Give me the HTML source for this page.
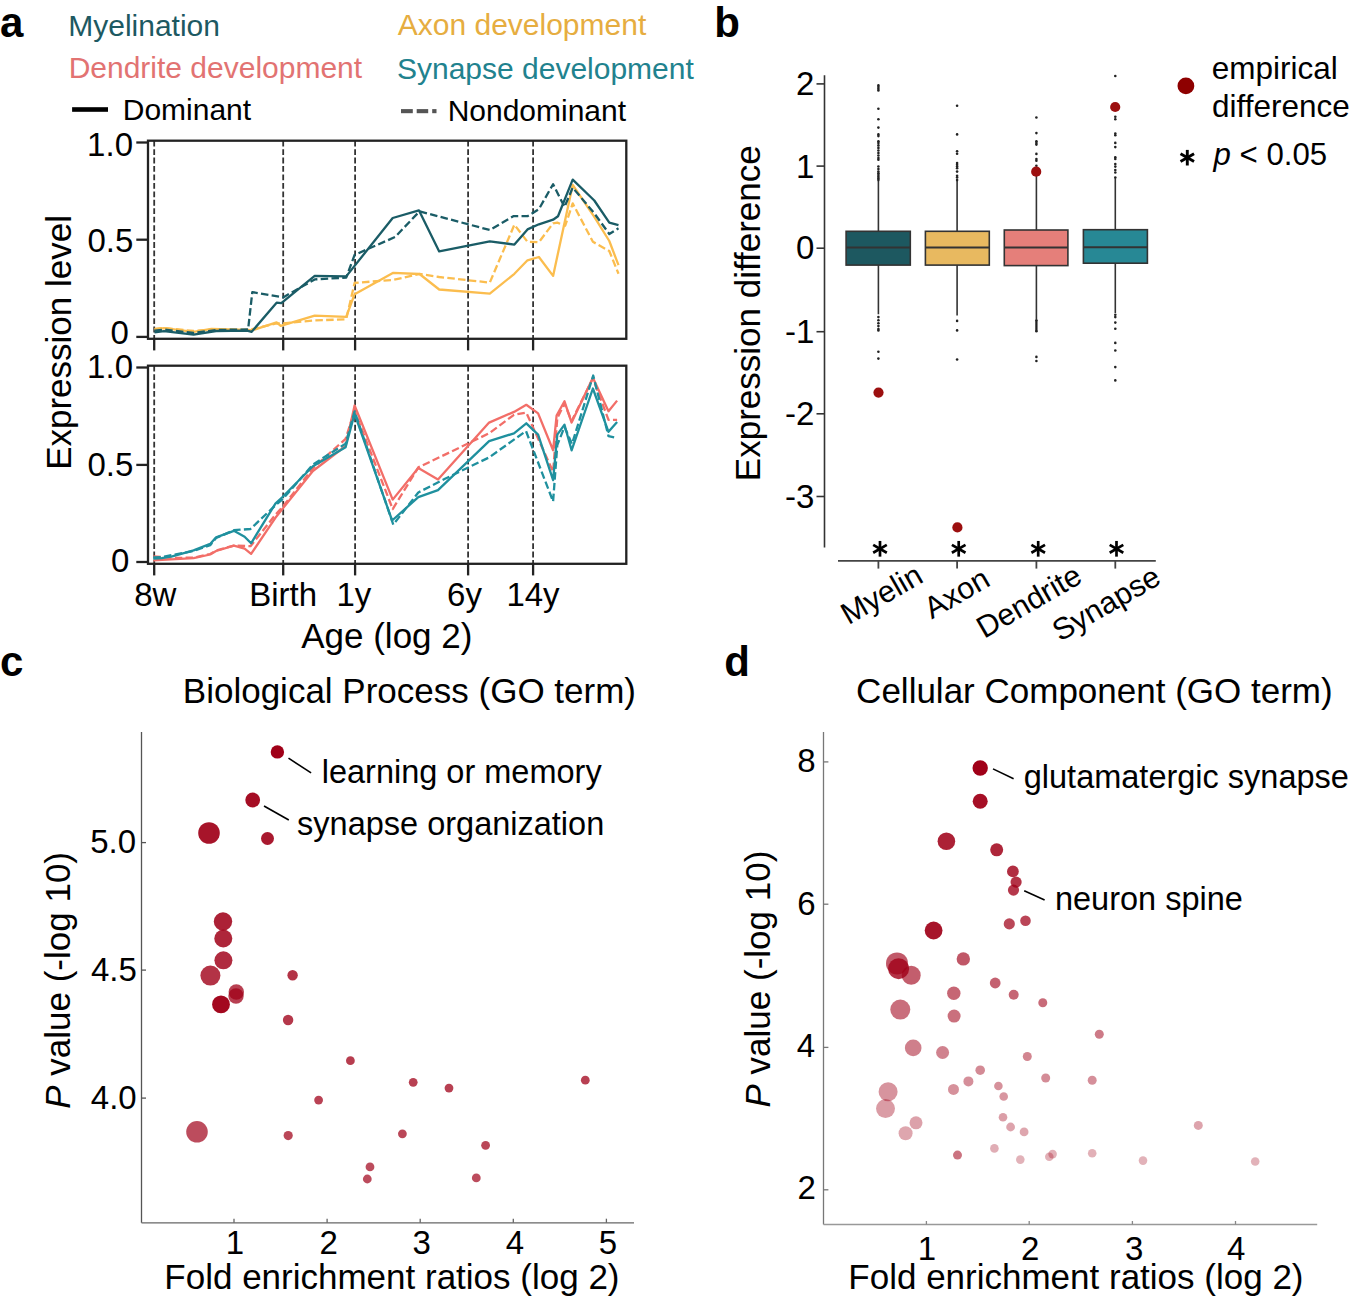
<!DOCTYPE html>
<html><head><meta charset="utf-8"><style>
html,body{margin:0;padding:0;background:#fff;}
svg{display:block;}
text{font-family:"Liberation Sans", sans-serif;}
</style></head><body>
<svg width="1350" height="1301" viewBox="0 0 1350 1301">
<rect width="1350" height="1301" fill="#fff"/>
<text x="0.07" y="36.5" font-size="42" fill="#000" text-anchor="start" font-weight="bold" font-style="normal" >a</text>
<text x="714.33" y="36.7" font-size="42" fill="#000" text-anchor="start" font-weight="bold" font-style="normal" >b</text>
<text x="-0.04" y="675.6" font-size="42" fill="#000" text-anchor="start" font-weight="bold" font-style="normal" >c</text>
<text x="724.28" y="675.6" font-size="42" fill="#000" text-anchor="start" font-weight="bold" font-style="normal" >d</text>
<text x="68.24" y="35.7" font-size="30" fill="#1d5962" text-anchor="start" font-weight="normal" font-style="normal" >Myelination</text>
<text x="397.74" y="34.8" font-size="30" fill="#e6ad40" text-anchor="start" font-weight="normal" font-style="normal" >Axon development</text>
<text x="68.64" y="78.2" font-size="30" fill="#e27372" text-anchor="start" font-weight="normal" font-style="normal" >Dendrite development</text>
<text x="396.95" y="79.0" font-size="30" fill="#21828e" text-anchor="start" font-weight="normal" font-style="normal" >Synapse development</text>
<rect x="72.1" y="107.2" width="35.9" height="4.6" fill="#000"/>
<text x="122.74" y="119.9" font-size="30" fill="#000" text-anchor="start" font-weight="normal" font-style="normal" >Dominant</text>
<rect x="401" y="109.1" width="11.8" height="4.1" fill="#555"/>
<rect x="416.7" y="109.1" width="11.5" height="4.1" fill="#555"/>
<rect x="432.2" y="109.1" width="4.3" height="4.1" fill="#555"/>
<text x="447.64" y="120.8" font-size="30" fill="#000" text-anchor="start" font-weight="normal" font-style="normal" >Nondominant</text>
<line x1="154.2" y1="140.7" x2="154.2" y2="338.8" stroke="#333" stroke-width="1.8" stroke-dasharray="5.8 2.65"/>
<line x1="283.2" y1="140.7" x2="283.2" y2="338.8" stroke="#333" stroke-width="1.8" stroke-dasharray="5.8 2.65"/>
<line x1="355.1" y1="140.7" x2="355.1" y2="338.8" stroke="#333" stroke-width="1.8" stroke-dasharray="5.8 2.65"/>
<line x1="468.1" y1="140.7" x2="468.1" y2="338.8" stroke="#333" stroke-width="1.8" stroke-dasharray="5.8 2.65"/>
<line x1="533.1" y1="140.7" x2="533.1" y2="338.8" stroke="#333" stroke-width="1.8" stroke-dasharray="5.8 2.65"/>
<line x1="154.2" y1="338.8" x2="154.2" y2="350.40000000000003" stroke="#222" stroke-width="2.3"/>
<line x1="283.2" y1="338.8" x2="283.2" y2="350.40000000000003" stroke="#222" stroke-width="2.3"/>
<line x1="355.1" y1="338.8" x2="355.1" y2="350.40000000000003" stroke="#222" stroke-width="2.3"/>
<line x1="468.1" y1="338.8" x2="468.1" y2="350.40000000000003" stroke="#222" stroke-width="2.3"/>
<line x1="533.1" y1="338.8" x2="533.1" y2="350.40000000000003" stroke="#222" stroke-width="2.3"/>
<line x1="154.2" y1="365.7" x2="154.2" y2="563.8" stroke="#333" stroke-width="1.8" stroke-dasharray="5.8 2.65"/>
<line x1="283.2" y1="365.7" x2="283.2" y2="563.8" stroke="#333" stroke-width="1.8" stroke-dasharray="5.8 2.65"/>
<line x1="355.1" y1="365.7" x2="355.1" y2="563.8" stroke="#333" stroke-width="1.8" stroke-dasharray="5.8 2.65"/>
<line x1="468.1" y1="365.7" x2="468.1" y2="563.8" stroke="#333" stroke-width="1.8" stroke-dasharray="5.8 2.65"/>
<line x1="533.1" y1="365.7" x2="533.1" y2="563.8" stroke="#333" stroke-width="1.8" stroke-dasharray="5.8 2.65"/>
<line x1="154.2" y1="563.8" x2="154.2" y2="575.4" stroke="#222" stroke-width="2.3"/>
<line x1="283.2" y1="563.8" x2="283.2" y2="575.4" stroke="#222" stroke-width="2.3"/>
<line x1="355.1" y1="563.8" x2="355.1" y2="575.4" stroke="#222" stroke-width="2.3"/>
<line x1="468.1" y1="563.8" x2="468.1" y2="575.4" stroke="#222" stroke-width="2.3"/>
<line x1="533.1" y1="563.8" x2="533.1" y2="575.4" stroke="#222" stroke-width="2.3"/>
<line x1="136.3" y1="142.5" x2="148.0" y2="142.5" stroke="#222" stroke-width="2.3"/>
<text x="87.11" y="155.7" font-size="33" fill="#000" text-anchor="start" font-weight="normal" font-style="normal" >1.0</text>
<line x1="136.3" y1="239.7" x2="148.0" y2="239.7" stroke="#222" stroke-width="2.3"/>
<text x="87.51" y="252.2" font-size="33" fill="#000" text-anchor="start" font-weight="normal" font-style="normal" >0.5</text>
<line x1="136.3" y1="336.9" x2="148.0" y2="336.9" stroke="#222" stroke-width="2.3"/>
<text x="110.54" y="343.8" font-size="33" fill="#000" text-anchor="start" font-weight="normal" font-style="normal" >0</text>
<line x1="136.3" y1="367.5" x2="148.0" y2="367.5" stroke="#222" stroke-width="2.3"/>
<text x="87.11" y="378.0" font-size="33" fill="#000" text-anchor="start" font-weight="normal" font-style="normal" >1.0</text>
<line x1="136.3" y1="464.9" x2="148.0" y2="464.9" stroke="#222" stroke-width="2.3"/>
<text x="87.51" y="475.6" font-size="33" fill="#000" text-anchor="start" font-weight="normal" font-style="normal" >0.5</text>
<line x1="136.3" y1="562.0" x2="148.0" y2="562.0" stroke="#222" stroke-width="2.3"/>
<text x="110.94" y="572.1" font-size="33" fill="#000" text-anchor="start" font-weight="normal" font-style="normal" >0</text>
<polyline points="154.5,329.0 164.0,328.0 193.6,331.0 216.0,329.5 248.1,330.0 276.6,323.5 283.1,323.5 314.7,320.4 346.2,319.3 354.6,282.9 392.7,280.0 419.5,274.0 439.2,277.0 489.8,282.6 514.4,224.7 527.5,241.8 538.9,242.2 553.1,223.3 557.3,222.6 565.2,225.7 572.7,203.4 592.9,241.8 609.3,251.0 618.5,273.8" fill="none" stroke="#fbbd4e" stroke-width="2.3" stroke-linejoin="round" stroke-dasharray="7.5 3.3"/>
<polyline points="154.5,329.4 164.0,328.2 193.6,331.8 211.4,328.8 248.1,330.0 251.7,330.5 276.6,322.3 280.7,325.9 314.7,315.7 346.2,316.9 354.6,294.2 393.3,272.8 419.5,274.0 439.2,289.5 489.8,293.7 514.4,273.8 527.5,260.3 538.9,257.0 553.1,275.9 572.7,184.9 594.3,216.9 609.3,241.0 618.5,265.2" fill="none" stroke="#fbbd4e" stroke-width="2.3" stroke-linejoin="round"/>
<polyline points="154.5,330.6 164.0,329.6 193.6,333.0 216.0,330.0 248.1,329.4 252.3,292.1 283.1,297.4 314.7,279.4 346.2,277.6 354.6,254.9 395.1,237.0 419.5,211.4 489.8,230.0 513.3,216.2 527.5,216.2 538.9,209.1 553.1,184.2 564.5,206.9 572.7,187.7 594.3,213.3 609.3,234.0 618.5,228.3" fill="none" stroke="#1a5c66" stroke-width="2.3" stroke-linejoin="round" stroke-dasharray="7.5 3.3"/>
<polyline points="154.5,332.4 164.0,331.2 193.6,334.7 216.0,331.0 247.0,330.6 251.7,331.8 276.6,302.7 281.3,303.1 314.7,275.8 346.2,276.4 392.7,218.0 418.9,210.3 439.2,251.4 489.8,241.3 514.4,244.6 527.5,229.4 538.9,224.3 553.1,219.7 558.0,216.2 572.7,179.6 594.3,200.5 609.3,222.6 618.5,225.1" fill="none" stroke="#1a5c66" stroke-width="2.3" stroke-linejoin="round"/>
<polyline points="153.3,556.3 172.0,558.0 193.6,557.6 210.2,554.0 216.1,550.5 233.9,545.6 250.5,546.2 275.4,514.8 282.5,507.0 312.9,468.3 345.6,438.8 354.6,410.8 392.7,509.1 418.3,467.4 445.0,454.6 489.1,433.3 514.0,414.8 526.3,412.6 553.1,471.7 557.3,418.0 564.5,403.4 571.6,421.0 592.9,378.5 608.5,419.8 617.1,419.8" fill="none" stroke="#f26e68" stroke-width="2.3" stroke-linejoin="round" stroke-dasharray="7.5 3.3"/>
<polyline points="153.3,560.4 193.6,558.1 210.2,554.5 216.1,551.0 233.9,545.6 244.6,548.6 251.1,553.9 275.4,517.8 282.5,508.9 312.9,471.0 345.6,446.0 354.6,405.5 392.7,499.6 418.3,468.0 438.0,479.4 489.1,422.6 514.0,411.9 526.3,404.8 538.1,413.4 553.1,450.3 556.6,415.5 564.5,401.3 571.6,422.6 592.9,377.8 608.5,411.2 617.1,400.6" fill="none" stroke="#f26e68" stroke-width="2.3" stroke-linejoin="round"/>
<polyline points="153.3,557.5 161.6,557.0 172.3,555.0 193.6,550.9 210.2,545.2 216.1,538.0 233.9,530.2 250.5,529.0 275.4,505.3 282.5,499.4 312.9,464.5 345.6,443.6 354.6,411.4 393.3,524.6 418.3,492.5 445.0,478.8 489.1,457.4 526.0,431.1 553.1,501.5 557.3,445.0 564.5,427.0 572.0,444.0 593.2,375.5 608.5,436.1 617.1,438.2" fill="none" stroke="#1f909e" stroke-width="2.3" stroke-linejoin="round" stroke-dasharray="7.5 3.3"/>
<polyline points="153.3,558.7 161.6,558.1 172.3,556.3 193.6,550.4 210.2,543.9 216.1,537.3 233.9,530.8 244.6,536.7 251.1,543.3 275.4,503.6 282.5,497.0 312.9,466.2 345.6,447.2 354.6,413.8 392.1,520.5 418.3,497.2 438.0,490.1 489.1,441.1 514.0,433.3 526.3,423.3 538.1,434.7 553.1,480.2 557.3,434.7 564.5,424.7 571.6,450.3 592.9,388.5 608.5,431.8 617.1,421.9" fill="none" stroke="#1f909e" stroke-width="2.3" stroke-linejoin="round"/>
<rect x="148.0" y="140.7" width="478.29999999999995" height="198.10000000000002" fill="none" stroke="#222" stroke-width="2.3"/>
<rect x="148.0" y="365.7" width="478.29999999999995" height="198.09999999999997" fill="none" stroke="#222" stroke-width="2.3"/>
<text x="134.15" y="606.1" font-size="33" fill="#000" text-anchor="start" font-weight="normal" font-style="normal" >8w</text>
<text x="249.14" y="606.1" font-size="33" fill="#000" text-anchor="start" font-weight="normal" font-style="normal" >Birth</text>
<text x="336.45" y="606.1" font-size="33" fill="#000" text-anchor="start" font-weight="normal" font-style="normal" >1y</text>
<text x="447.07" y="606.1" font-size="33" fill="#000" text-anchor="start" font-weight="normal" font-style="normal" >6y</text>
<text x="506.42" y="606.1" font-size="33" fill="#000" text-anchor="start" font-weight="normal" font-style="normal" >14y</text>
<text x="301.23" y="648.2" font-size="35" fill="#000" text-anchor="start" font-weight="normal" font-style="normal" >Age (log 2)</text>
<text x="0" y="0" font-size="35" fill="#000" text-anchor="start" font-weight="normal" font-style="normal" transform="translate(70.9,469.87) rotate(-90)">Expression level</text>
<line x1="824.5" y1="75.3" x2="824.5" y2="547.5" stroke="#333" stroke-width="1.6"/>
<line x1="816.5" y1="83.9" x2="824.5" y2="83.9" stroke="#333" stroke-width="1.6"/>
<text x="814.4" y="94.7" font-size="33" fill="#000" text-anchor="end" font-weight="normal" font-style="normal" >2</text>
<line x1="816.5" y1="166.1" x2="824.5" y2="166.1" stroke="#333" stroke-width="1.6"/>
<text x="814.4" y="177.6" font-size="33" fill="#000" text-anchor="end" font-weight="normal" font-style="normal" >1</text>
<line x1="816.5" y1="248.2" x2="824.5" y2="248.2" stroke="#333" stroke-width="1.6"/>
<text x="814.4" y="259.3" font-size="33" fill="#000" text-anchor="end" font-weight="normal" font-style="normal" >0</text>
<line x1="816.5" y1="331.7" x2="824.5" y2="331.7" stroke="#333" stroke-width="1.6"/>
<text x="814.4" y="343.0" font-size="33" fill="#000" text-anchor="end" font-weight="normal" font-style="normal" >-1</text>
<line x1="816.5" y1="413.8" x2="824.5" y2="413.8" stroke="#333" stroke-width="1.6"/>
<text x="814.4" y="425.0" font-size="33" fill="#000" text-anchor="end" font-weight="normal" font-style="normal" >-2</text>
<line x1="816.5" y1="496.5" x2="824.5" y2="496.5" stroke="#333" stroke-width="1.6"/>
<text x="814.4" y="508.4" font-size="33" fill="#000" text-anchor="end" font-weight="normal" font-style="normal" >-3</text>
<text x="0" y="0" font-size="35" fill="#000" text-anchor="start" font-weight="normal" font-style="normal" transform="translate(759.8,481.17) rotate(-90)">Expression difference</text>
<line x1="838" y1="560.8" x2="1155.8" y2="560.8" stroke="#444" stroke-width="1.8"/>
<line x1="878.4" y1="560.8" x2="878.4" y2="568.6" stroke="#444" stroke-width="1.8"/>
<line x1="957.1" y1="560.8" x2="957.1" y2="568.6" stroke="#444" stroke-width="1.8"/>
<line x1="1036.4" y1="560.8" x2="1036.4" y2="568.6" stroke="#444" stroke-width="1.8"/>
<line x1="1115.3" y1="560.8" x2="1115.3" y2="568.6" stroke="#444" stroke-width="1.8"/>
<line x1="878.4" y1="180.9" x2="878.4" y2="231.3" stroke="#333" stroke-width="1.6"/>
<line x1="878.4" y1="265.1" x2="878.4" y2="314.3" stroke="#333" stroke-width="1.6"/>
<rect x="846.1" y="231.3" width="64.19999999999993" height="33.80000000000001" fill="#1d5860" stroke="#333" stroke-width="1.6"/>
<line x1="846.1" y1="247.4" x2="910.3" y2="247.4" stroke="#333" stroke-width="2"/>
<circle cx="878.4" cy="85.4" r="1.3" fill="#222"/>
<circle cx="878.4" cy="87" r="1.3" fill="#222"/>
<circle cx="878.4" cy="88.7" r="1.3" fill="#222"/>
<circle cx="878.4" cy="90.4" r="1.3" fill="#222"/>
<circle cx="878.4" cy="108.7" r="1.3" fill="#222"/>
<circle cx="878.4" cy="119.2" r="1.3" fill="#222"/>
<circle cx="878.4" cy="127.6" r="1.3" fill="#222"/>
<circle cx="878.4" cy="134.4" r="1.3" fill="#222"/>
<circle cx="878.4" cy="136.1" r="1.3" fill="#222"/>
<circle cx="878.4" cy="141.2" r="1.3" fill="#222"/>
<circle cx="878.4" cy="142.9" r="1.3" fill="#222"/>
<circle cx="878.4" cy="145.4" r="1.3" fill="#222"/>
<circle cx="878.4" cy="147.9" r="1.3" fill="#222"/>
<circle cx="878.4" cy="150.5" r="1.3" fill="#222"/>
<circle cx="878.4" cy="153" r="1.3" fill="#222"/>
<circle cx="878.4" cy="155.5" r="1.3" fill="#222"/>
<circle cx="878.4" cy="158.1" r="1.3" fill="#222"/>
<circle cx="878.4" cy="159.8" r="1.3" fill="#222"/>
<circle cx="878.4" cy="166.5" r="1.3" fill="#222"/>
<circle cx="878.4" cy="169.1" r="1.3" fill="#222"/>
<circle cx="878.4" cy="171.6" r="1.3" fill="#222"/>
<circle cx="878.4" cy="173.3" r="1.3" fill="#222"/>
<circle cx="878.4" cy="175" r="1.3" fill="#222"/>
<circle cx="878.4" cy="176.7" r="1.3" fill="#222"/>
<circle cx="878.4" cy="178.4" r="1.3" fill="#222"/>
<circle cx="878.4" cy="180.1" r="1.3" fill="#222"/>
<circle cx="878.4" cy="317.1" r="1.3" fill="#222"/>
<circle cx="878.4" cy="320.2" r="1.3" fill="#222"/>
<circle cx="878.4" cy="323.3" r="1.3" fill="#222"/>
<circle cx="878.4" cy="326.1" r="1.3" fill="#222"/>
<circle cx="878.4" cy="329" r="1.3" fill="#222"/>
<circle cx="878.4" cy="330.4" r="1.3" fill="#222"/>
<circle cx="878.4" cy="351.7" r="1.3" fill="#222"/>
<circle cx="878.4" cy="358.6" r="1.3" fill="#222"/>
<line x1="957.1" y1="181.0" x2="957.1" y2="231.3" stroke="#333" stroke-width="1.6"/>
<line x1="957.1" y1="265.1" x2="957.1" y2="315.4" stroke="#333" stroke-width="1.6"/>
<rect x="925.4" y="231.3" width="63.89999999999998" height="33.80000000000001" fill="#e8b960" stroke="#333" stroke-width="1.6"/>
<line x1="925.4" y1="247.4" x2="989.3" y2="247.4" stroke="#333" stroke-width="2"/>
<circle cx="957.1" cy="105.7" r="1.3" fill="#222"/>
<circle cx="957.1" cy="134.4" r="1.3" fill="#222"/>
<circle cx="957.1" cy="151.3" r="1.3" fill="#222"/>
<circle cx="957.1" cy="153.8" r="1.3" fill="#222"/>
<circle cx="957.1" cy="163.1" r="1.3" fill="#222"/>
<circle cx="957.1" cy="164.8" r="1.3" fill="#222"/>
<circle cx="957.1" cy="166.5" r="1.3" fill="#222"/>
<circle cx="957.1" cy="168.2" r="1.3" fill="#222"/>
<circle cx="957.1" cy="171.6" r="1.3" fill="#222"/>
<circle cx="957.1" cy="175.8" r="1.3" fill="#222"/>
<circle cx="957.1" cy="177.5" r="1.3" fill="#222"/>
<circle cx="957.1" cy="180.1" r="1.3" fill="#222"/>
<circle cx="957.1" cy="320.9" r="1.3" fill="#222"/>
<circle cx="957.1" cy="330.4" r="1.3" fill="#222"/>
<circle cx="957.1" cy="359.5" r="1.3" fill="#222"/>
<line x1="1036.4" y1="171.0" x2="1036.4" y2="230.0" stroke="#333" stroke-width="1.6"/>
<line x1="1036.4" y1="265.6" x2="1036.4" y2="319.0" stroke="#333" stroke-width="1.6"/>
<rect x="1004.3" y="230.0" width="63.600000000000136" height="35.60000000000002" fill="#e57f7a" stroke="#333" stroke-width="1.6"/>
<line x1="1004.3" y1="247.4" x2="1067.9" y2="247.4" stroke="#333" stroke-width="2"/>
<circle cx="1036.4" cy="117.5" r="1.3" fill="#222"/>
<circle cx="1036.4" cy="133.1" r="1.3" fill="#222"/>
<circle cx="1036.4" cy="141.2" r="1.3" fill="#222"/>
<circle cx="1036.4" cy="142.9" r="1.3" fill="#222"/>
<circle cx="1036.4" cy="144.6" r="1.3" fill="#222"/>
<circle cx="1036.4" cy="153.9" r="1.3" fill="#222"/>
<circle cx="1036.4" cy="159" r="1.3" fill="#222"/>
<circle cx="1036.4" cy="160.7" r="1.3" fill="#222"/>
<circle cx="1036.4" cy="165.7" r="1.3" fill="#222"/>
<circle cx="1036.4" cy="320.2" r="1.3" fill="#222"/>
<circle cx="1036.4" cy="322" r="1.3" fill="#222"/>
<circle cx="1036.4" cy="324" r="1.3" fill="#222"/>
<circle cx="1036.4" cy="326" r="1.3" fill="#222"/>
<circle cx="1036.4" cy="328" r="1.3" fill="#222"/>
<circle cx="1036.4" cy="330" r="1.3" fill="#222"/>
<circle cx="1036.4" cy="331.3" r="1.3" fill="#222"/>
<circle cx="1036.4" cy="356.9" r="1.3" fill="#222"/>
<circle cx="1036.4" cy="361" r="1.3" fill="#222"/>
<line x1="1115.3" y1="178.4" x2="1115.3" y2="229.7" stroke="#333" stroke-width="1.6"/>
<line x1="1115.3" y1="263.2" x2="1115.3" y2="313.0" stroke="#333" stroke-width="1.6"/>
<rect x="1083.4" y="229.7" width="64.0" height="33.5" fill="#278895" stroke="#333" stroke-width="1.6"/>
<line x1="1083.4" y1="247.3" x2="1147.4" y2="247.3" stroke="#333" stroke-width="2"/>
<circle cx="1115.3" cy="76" r="1.3" fill="#222"/>
<circle cx="1115.3" cy="116.7" r="1.3" fill="#222"/>
<circle cx="1115.3" cy="119.2" r="1.3" fill="#222"/>
<circle cx="1115.3" cy="133.6" r="1.3" fill="#222"/>
<circle cx="1115.3" cy="135.3" r="1.3" fill="#222"/>
<circle cx="1115.3" cy="142.9" r="1.3" fill="#222"/>
<circle cx="1115.3" cy="147.1" r="1.3" fill="#222"/>
<circle cx="1115.3" cy="157.3" r="1.3" fill="#222"/>
<circle cx="1115.3" cy="159" r="1.3" fill="#222"/>
<circle cx="1115.3" cy="164" r="1.3" fill="#222"/>
<circle cx="1115.3" cy="166.6" r="1.3" fill="#222"/>
<circle cx="1115.3" cy="170" r="1.3" fill="#222"/>
<circle cx="1115.3" cy="172.5" r="1.3" fill="#222"/>
<circle cx="1115.3" cy="177.6" r="1.3" fill="#222"/>
<circle cx="1115.3" cy="314.7" r="1.3" fill="#222"/>
<circle cx="1115.3" cy="317.1" r="1.3" fill="#222"/>
<circle cx="1115.3" cy="322.6" r="1.3" fill="#222"/>
<circle cx="1115.3" cy="328.7" r="1.3" fill="#222"/>
<circle cx="1115.3" cy="342.9" r="1.3" fill="#222"/>
<circle cx="1115.3" cy="350.5" r="1.3" fill="#222"/>
<circle cx="1115.3" cy="367.1" r="1.3" fill="#222"/>
<circle cx="1115.3" cy="380.4" r="1.3" fill="#222"/>
<circle cx="878.5" cy="392.6" r="5.1" fill="#9c0f0f"/>
<circle cx="957.4" cy="527.4" r="5.1" fill="#9c0f0f"/>
<circle cx="1036.2" cy="171.7" r="5.1" fill="#9c0f0f"/>
<circle cx="1115.2" cy="107" r="5.1" fill="#9c0f0f"/>
<line x1="880.00" y1="540.95" x2="880.00" y2="556.65" stroke="#000" stroke-width="2.7" stroke-linecap="butt"/>
<line x1="873.20" y1="544.88" x2="886.80" y2="552.72" stroke="#000" stroke-width="2.7" stroke-linecap="butt"/>
<line x1="873.20" y1="552.72" x2="886.80" y2="544.88" stroke="#000" stroke-width="2.7" stroke-linecap="butt"/>
<line x1="958.70" y1="540.95" x2="958.70" y2="556.65" stroke="#000" stroke-width="2.7" stroke-linecap="butt"/>
<line x1="951.90" y1="544.88" x2="965.50" y2="552.72" stroke="#000" stroke-width="2.7" stroke-linecap="butt"/>
<line x1="951.90" y1="552.72" x2="965.50" y2="544.88" stroke="#000" stroke-width="2.7" stroke-linecap="butt"/>
<line x1="1038.20" y1="540.95" x2="1038.20" y2="556.65" stroke="#000" stroke-width="2.7" stroke-linecap="butt"/>
<line x1="1031.40" y1="544.88" x2="1045.00" y2="552.72" stroke="#000" stroke-width="2.7" stroke-linecap="butt"/>
<line x1="1031.40" y1="552.72" x2="1045.00" y2="544.88" stroke="#000" stroke-width="2.7" stroke-linecap="butt"/>
<line x1="1116.50" y1="540.95" x2="1116.50" y2="556.65" stroke="#000" stroke-width="2.7" stroke-linecap="butt"/>
<line x1="1109.70" y1="544.88" x2="1123.30" y2="552.72" stroke="#000" stroke-width="2.7" stroke-linecap="butt"/>
<line x1="1109.70" y1="552.72" x2="1123.30" y2="544.88" stroke="#000" stroke-width="2.7" stroke-linecap="butt"/>
<text x="0" y="0" font-size="30.5" fill="#000" text-anchor="start" font-weight="normal" font-style="normal" transform="translate(848.5,625.3) rotate(-30)">Myelin</text>
<text x="0" y="0" font-size="30.5" fill="#000" text-anchor="start" font-weight="normal" font-style="normal" transform="translate(931.8,619.6) rotate(-30)">Axon</text>
<text x="0" y="0" font-size="30.5" fill="#000" text-anchor="start" font-weight="normal" font-style="normal" transform="translate(984.2,639.1) rotate(-30)">Dendrite</text>
<text x="0" y="0" font-size="30.5" fill="#000" text-anchor="start" font-weight="normal" font-style="normal" transform="translate(1060.0,642.1) rotate(-30)">Synapse</text>
<circle cx="1185.9" cy="85.9" r="8.4" fill="#8e0000"/>
<text x="1211.66" y="79.2" font-size="31.5" fill="#000" text-anchor="start" font-weight="normal" font-style="normal" >empirical</text>
<text x="1212.08" y="116.7" font-size="31.5" fill="#000" text-anchor="start" font-weight="normal" font-style="normal" >difference</text>
<line x1="1187.30" y1="149.90" x2="1187.30" y2="165.50" stroke="#000" stroke-width="2.9" stroke-linecap="butt"/>
<line x1="1180.55" y1="153.80" x2="1194.05" y2="161.60" stroke="#000" stroke-width="2.9" stroke-linecap="butt"/>
<line x1="1180.55" y1="161.60" x2="1194.05" y2="153.80" stroke="#000" stroke-width="2.9" stroke-linecap="butt"/>
<text x="1213.6" y="165.3" font-size="31.2" fill="#000" text-anchor="start" font-weight="normal" font-style="normal" ><tspan font-style="italic">p</tspan> &lt; 0.05</text>
<text x="182.83" y="702.7" font-size="35" fill="#000" text-anchor="start" font-weight="normal" font-style="normal" >Biological Process (GO term)</text>
<line x1="141.5" y1="732" x2="141.5" y2="1222.8" stroke="#555" stroke-width="1.3"/>
<line x1="141.5" y1="1222.8" x2="634" y2="1222.8" stroke="#666" stroke-width="1.3"/>
<line x1="141.5" y1="842.6" x2="146" y2="842.6" stroke="#555" stroke-width="1.3"/>
<text x="90.21" y="853.2" font-size="33" fill="#000" text-anchor="start" font-weight="normal" font-style="normal" >5.0</text>
<line x1="141.5" y1="970.1" x2="146" y2="970.1" stroke="#555" stroke-width="1.3"/>
<text x="90.91" y="980.8" font-size="33" fill="#000" text-anchor="start" font-weight="normal" font-style="normal" >4.5</text>
<line x1="141.5" y1="1098.1" x2="146" y2="1098.1" stroke="#555" stroke-width="1.3"/>
<text x="90.81" y="1108.8" font-size="33" fill="#000" text-anchor="start" font-weight="normal" font-style="normal" >4.0</text>
<line x1="234.0" y1="1218.7" x2="234.0" y2="1222.8" stroke="#666" stroke-width="1.3"/>
<text x="225.87" y="1253.8" font-size="33" fill="#000" text-anchor="start" font-weight="normal" font-style="normal" >1</text>
<line x1="327.1" y1="1218.7" x2="327.1" y2="1222.8" stroke="#666" stroke-width="1.3"/>
<text x="319.42" y="1253.8" font-size="33" fill="#000" text-anchor="start" font-weight="normal" font-style="normal" >2</text>
<line x1="420.2" y1="1218.7" x2="420.2" y2="1222.8" stroke="#666" stroke-width="1.3"/>
<text x="412.62" y="1253.8" font-size="33" fill="#000" text-anchor="start" font-weight="normal" font-style="normal" >3</text>
<line x1="513.3" y1="1218.7" x2="513.3" y2="1222.8" stroke="#666" stroke-width="1.3"/>
<text x="505.73" y="1253.8" font-size="33" fill="#000" text-anchor="start" font-weight="normal" font-style="normal" >4</text>
<line x1="606.4" y1="1218.7" x2="606.4" y2="1222.8" stroke="#666" stroke-width="1.3"/>
<text x="598.76" y="1253.8" font-size="33" fill="#000" text-anchor="start" font-weight="normal" font-style="normal" >5</text>
<text x="164.33" y="1289.3" font-size="35" fill="#000" text-anchor="start" font-weight="normal" font-style="normal" >Fold enrichment ratios (log 2)</text>
<text x="0" y="0" font-size="35" fill="#000" text-anchor="start" font-weight="normal" font-style="normal" transform="translate(69.8,1108.78) rotate(-90)"><tspan font-style="italic">P</tspan> value (-log 10)</text>
<circle cx="277.4" cy="751.9" r="6.7" fill="rgb(160,0,24)" fill-opacity="1.00"/>
<circle cx="252.7" cy="800" r="7.4" fill="rgb(160,0,24)" fill-opacity="0.95"/>
<circle cx="209" cy="833" r="10.8" fill="rgb(160,0,24)" fill-opacity="0.92"/>
<circle cx="267.5" cy="838.5" r="6.5" fill="rgb(160,0,24)" fill-opacity="0.90"/>
<circle cx="223" cy="921.5" r="9.2" fill="rgb(160,0,24)" fill-opacity="0.87"/>
<circle cx="223.3" cy="938.5" r="9" fill="rgb(160,0,24)" fill-opacity="0.85"/>
<circle cx="223.4" cy="960.3" r="9" fill="rgb(160,0,24)" fill-opacity="0.83"/>
<circle cx="210.4" cy="975.6" r="10" fill="rgb(160,0,24)" fill-opacity="0.80"/>
<circle cx="236.3" cy="992" r="7.7" fill="rgb(160,0,24)" fill-opacity="0.75"/>
<circle cx="236" cy="996" r="7.7" fill="rgb(160,0,24)" fill-opacity="0.75"/>
<circle cx="221" cy="1004.4" r="8.9" fill="rgb(160,0,24)" fill-opacity="0.97"/>
<circle cx="292.6" cy="975.3" r="5.2" fill="rgb(160,0,24)" fill-opacity="0.80"/>
<circle cx="288.1" cy="1020" r="5.2" fill="rgb(160,0,24)" fill-opacity="0.78"/>
<circle cx="350.4" cy="1060.7" r="4.4" fill="rgb(160,0,24)" fill-opacity="0.76"/>
<circle cx="318.6" cy="1100.1" r="4.4" fill="rgb(160,0,24)" fill-opacity="0.74"/>
<circle cx="197" cy="1131.8" r="10.8" fill="rgb(160,0,24)" fill-opacity="0.70"/>
<circle cx="288.2" cy="1135.6" r="4.6" fill="rgb(160,0,24)" fill-opacity="0.72"/>
<circle cx="413.2" cy="1082.3" r="4.4" fill="rgb(160,0,24)" fill-opacity="0.75"/>
<circle cx="449" cy="1088.1" r="4.4" fill="rgb(160,0,24)" fill-opacity="0.75"/>
<circle cx="585.3" cy="1080.2" r="4.4" fill="rgb(160,0,24)" fill-opacity="0.75"/>
<circle cx="402.4" cy="1133.8" r="4.4" fill="rgb(160,0,24)" fill-opacity="0.72"/>
<circle cx="485.6" cy="1145.3" r="4.4" fill="rgb(160,0,24)" fill-opacity="0.72"/>
<circle cx="370" cy="1166.9" r="4.4" fill="rgb(160,0,24)" fill-opacity="0.70"/>
<circle cx="367.3" cy="1179" r="4.4" fill="rgb(160,0,24)" fill-opacity="0.70"/>
<circle cx="476.3" cy="1177.9" r="4.4" fill="rgb(160,0,24)" fill-opacity="0.70"/>
<line x1="288.5" y1="758.2" x2="311.1" y2="772.9" stroke="#000" stroke-width="1.6"/>
<line x1="264" y1="806" x2="288.8" y2="820" stroke="#000" stroke-width="1.6"/>
<text x="321.71" y="783.0" font-size="32.5" fill="#000" text-anchor="start" font-weight="normal" font-style="normal" >learning or memory</text>
<text x="297.1" y="835.3" font-size="32.5" fill="#000" text-anchor="start" font-weight="normal" font-style="normal" >synapse organization</text>
<text x="856.12" y="703.2" font-size="35" fill="#000" text-anchor="start" font-weight="normal" font-style="normal" >Cellular Component (GO term)</text>
<line x1="823.5" y1="732.1" x2="823.5" y2="1224.5" stroke="#777" stroke-width="1.3"/>
<line x1="823.5" y1="1224.5" x2="1317.2" y2="1224.5" stroke="#999" stroke-width="1.5"/>
<line x1="823.5" y1="761.9" x2="828.4" y2="761.9" stroke="#777" stroke-width="1.3"/>
<text x="797.18" y="772.2" font-size="33" fill="#000" text-anchor="start" font-weight="normal" font-style="normal" >8</text>
<line x1="823.5" y1="904.2" x2="828.4" y2="904.2" stroke="#777" stroke-width="1.3"/>
<text x="797.2" y="914.6" font-size="33" fill="#000" text-anchor="start" font-weight="normal" font-style="normal" >6</text>
<line x1="823.5" y1="1047.4" x2="828.4" y2="1047.4" stroke="#777" stroke-width="1.3"/>
<text x="796.71" y="1056.8" font-size="33" fill="#000" text-anchor="start" font-weight="normal" font-style="normal" >4</text>
<line x1="823.5" y1="1189.8" x2="828.4" y2="1189.8" stroke="#777" stroke-width="1.3"/>
<text x="797.41" y="1199.4" font-size="33" fill="#000" text-anchor="start" font-weight="normal" font-style="normal" >2</text>
<line x1="926.4" y1="1221" x2="926.4" y2="1224.5" stroke="#888" stroke-width="1.3"/>
<line x1="1029.2" y1="1221" x2="1029.2" y2="1224.5" stroke="#888" stroke-width="1.3"/>
<line x1="1132.4" y1="1221" x2="1132.4" y2="1224.5" stroke="#888" stroke-width="1.3"/>
<line x1="1235.5" y1="1221" x2="1235.5" y2="1224.5" stroke="#888" stroke-width="1.3"/>
<text x="917.87" y="1259.6" font-size="33" fill="#000" text-anchor="start" font-weight="normal" font-style="normal" >1</text>
<text x="1021.12" y="1259.6" font-size="33" fill="#000" text-anchor="start" font-weight="normal" font-style="normal" >2</text>
<text x="1125.02" y="1259.6" font-size="33" fill="#000" text-anchor="start" font-weight="normal" font-style="normal" >3</text>
<text x="1226.93" y="1259.6" font-size="33" fill="#000" text-anchor="start" font-weight="normal" font-style="normal" >4</text>
<text x="848.33" y="1288.9" font-size="35" fill="#000" text-anchor="start" font-weight="normal" font-style="normal" >Fold enrichment ratios (log 2)</text>
<text x="0" y="0" font-size="35" fill="#000" text-anchor="start" font-weight="normal" font-style="normal" transform="translate(770.0,1107.48) rotate(-90)"><tspan font-style="italic">P</tspan> value (-log 10)</text>
<circle cx="980.2" cy="768" r="7.7" fill="rgb(160,0,24)" fill-opacity="1.00"/>
<circle cx="980.2" cy="801.2" r="7.5" fill="rgb(160,0,24)" fill-opacity="0.94"/>
<circle cx="946.4" cy="841.2" r="8.8" fill="rgb(160,0,24)" fill-opacity="0.87"/>
<circle cx="996.7" cy="849.8" r="6.5" fill="rgb(160,0,24)" fill-opacity="0.85"/>
<circle cx="1012.9" cy="871.4" r="5.9" fill="rgb(160,0,24)" fill-opacity="0.82"/>
<circle cx="1016.1" cy="882.1" r="5.6" fill="rgb(160,0,24)" fill-opacity="0.80"/>
<circle cx="1013.5" cy="890.1" r="5.6" fill="rgb(160,0,24)" fill-opacity="0.78"/>
<circle cx="1009.3" cy="923.9" r="5.6" fill="rgb(160,0,24)" fill-opacity="0.72"/>
<circle cx="1025.5" cy="920.7" r="5.3" fill="rgb(160,0,24)" fill-opacity="0.73"/>
<circle cx="933.6" cy="930.5" r="8.9" fill="rgb(160,0,24)" fill-opacity="0.92"/>
<circle cx="897" cy="963.4" r="11" fill="rgb(160,0,24)" fill-opacity="0.65"/>
<circle cx="898.6" cy="968.7" r="10.5" fill="rgb(160,0,24)" fill-opacity="0.80"/>
<circle cx="911.2" cy="975.3" r="9.5" fill="rgb(160,0,24)" fill-opacity="0.63"/>
<circle cx="963.3" cy="958.9" r="6.7" fill="rgb(160,0,24)" fill-opacity="0.66"/>
<circle cx="953.8" cy="993.3" r="6.7" fill="rgb(160,0,24)" fill-opacity="0.60"/>
<circle cx="995.2" cy="983" r="5.4" fill="rgb(160,0,24)" fill-opacity="0.62"/>
<circle cx="1013.7" cy="994.7" r="5" fill="rgb(160,0,24)" fill-opacity="0.60"/>
<circle cx="1042.8" cy="1002.8" r="4.5" fill="rgb(160,0,24)" fill-opacity="0.58"/>
<circle cx="900.3" cy="1009.6" r="10" fill="rgb(160,0,24)" fill-opacity="0.57"/>
<circle cx="954.1" cy="1016.1" r="6.5" fill="rgb(160,0,24)" fill-opacity="0.56"/>
<circle cx="913.2" cy="1047.9" r="8.3" fill="rgb(160,0,24)" fill-opacity="0.50"/>
<circle cx="942.6" cy="1052.5" r="6.5" fill="rgb(160,0,24)" fill-opacity="0.49"/>
<circle cx="1027.3" cy="1056.5" r="4.5" fill="rgb(160,0,24)" fill-opacity="0.48"/>
<circle cx="980.2" cy="1070.2" r="4.8" fill="rgb(160,0,24)" fill-opacity="0.46"/>
<circle cx="1045.7" cy="1078" r="4.5" fill="rgb(160,0,24)" fill-opacity="0.45"/>
<circle cx="888.1" cy="1091.7" r="9.5" fill="rgb(160,0,24)" fill-opacity="0.42"/>
<circle cx="953.5" cy="1089.4" r="5.5" fill="rgb(160,0,24)" fill-opacity="0.43"/>
<circle cx="968.4" cy="1081.4" r="5" fill="rgb(160,0,24)" fill-opacity="0.44"/>
<circle cx="998.4" cy="1086" r="4.3" fill="rgb(160,0,24)" fill-opacity="0.43"/>
<circle cx="1003.7" cy="1096.5" r="4.3" fill="rgb(160,0,24)" fill-opacity="0.41"/>
<circle cx="885.5" cy="1108.6" r="9.5" fill="rgb(160,0,24)" fill-opacity="0.39"/>
<circle cx="916" cy="1122.8" r="6.5" fill="rgb(160,0,24)" fill-opacity="0.37"/>
<circle cx="905.6" cy="1133.3" r="7" fill="rgb(160,0,24)" fill-opacity="0.35"/>
<circle cx="1003" cy="1117.3" r="4.3" fill="rgb(160,0,24)" fill-opacity="0.38"/>
<circle cx="1010.6" cy="1127" r="4.4" fill="rgb(160,0,24)" fill-opacity="0.36"/>
<circle cx="1024.1" cy="1131.9" r="4.4" fill="rgb(160,0,24)" fill-opacity="0.35"/>
<circle cx="994.4" cy="1148.4" r="4.3" fill="rgb(160,0,24)" fill-opacity="0.32"/>
<circle cx="957.5" cy="1155.1" r="4.5" fill="rgb(160,0,24)" fill-opacity="0.55"/>
<circle cx="1020.3" cy="1159.6" r="4.3" fill="rgb(160,0,24)" fill-opacity="0.30"/>
<circle cx="1049.3" cy="1156.7" r="4.3" fill="rgb(160,0,24)" fill-opacity="0.31"/>
<circle cx="1052.6" cy="1154.1" r="4.3" fill="rgb(160,0,24)" fill-opacity="0.31"/>
<circle cx="1099.3" cy="1034.3" r="4.5" fill="rgb(160,0,24)" fill-opacity="0.52"/>
<circle cx="1092.2" cy="1080.2" r="4.5" fill="rgb(160,0,24)" fill-opacity="0.44"/>
<circle cx="1198.3" cy="1125.4" r="4.5" fill="rgb(160,0,24)" fill-opacity="0.36"/>
<circle cx="1092.2" cy="1153.3" r="4.3" fill="rgb(160,0,24)" fill-opacity="0.31"/>
<circle cx="1143" cy="1160.6" r="4.3" fill="rgb(160,0,24)" fill-opacity="0.30"/>
<circle cx="1255.2" cy="1161.5" r="4.3" fill="rgb(160,0,24)" fill-opacity="0.30"/>
<line x1="993" y1="768.9" x2="1013.6" y2="778.7" stroke="#000" stroke-width="1.6"/>
<line x1="1024.2" y1="890.7" x2="1044.6" y2="900.1" stroke="#000" stroke-width="1.6"/>
<text x="1023.74" y="787.9" font-size="32.5" fill="#000" text-anchor="start" font-weight="normal" font-style="normal" >glutamatergic synapse</text>
<text x="1054.94" y="909.9" font-size="32.5" fill="#000" text-anchor="start" font-weight="normal" font-style="normal" >neuron spine</text>
</svg>
</body></html>
